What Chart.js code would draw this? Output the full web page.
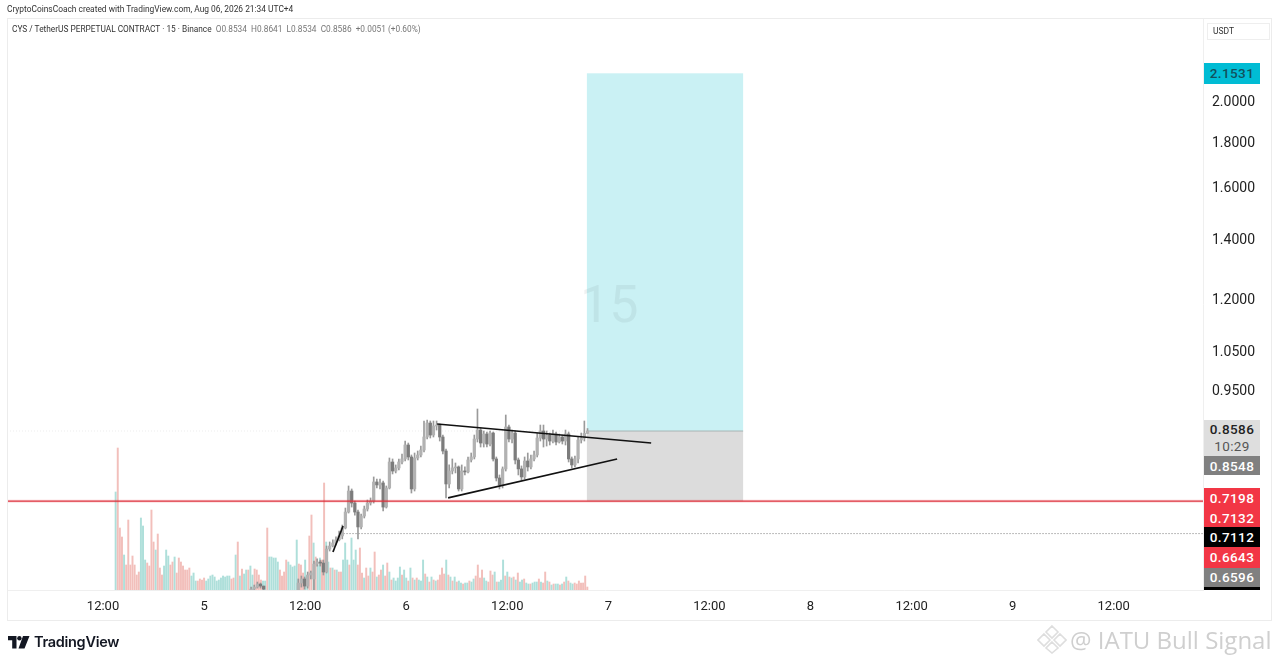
<!DOCTYPE html>
<html>
<head>
<meta charset="utf-8">
<script src="https://cdn.jsdelivr.net/npm/chart.js@4/dist/chart.umd.min.js"></script>
<style>
body { margin: 0; background: #fff; font-family: Roboto, sans-serif; overflow: hidden; }
#wrap { position: relative; width: 1280px; height: 663px; }
canvas { position: absolute; left: 0; top: 0; }
.t { position: absolute; white-space: nowrap; }
.frame { position: absolute; left: 7px; top: 18px; width: 1265px; height: 603px; border: 1px solid #ececec; box-sizing: border-box; }
.tag { position: absolute; left: 1204px; width: 56px; text-align: center; font: 500 13.5px Roboto, sans-serif; letter-spacing: .4px; }
</style>
</head>
<body>
<div id="wrap">
  <canvas id="chart" width="1280" height="663"></canvas>
  <div class="frame"></div>
  <div class="t" style="left:7px;top:4px;font-size:8.4px;color:#333">CryptoCoinsCoach created with TradingView.com, Aug 06, 2026 21:34 UTC+4</div>
  <div class="t" style="left:12px;top:24px;font-size:8.3px;color:#333">CYS / TetherUS PERPETUAL CONTRACT · 15 · Binance <span style="color:#777;margin-left:2px">O0.8534 &nbsp;H0.8641 &nbsp;L0.8534 &nbsp;C0.8586 &nbsp;+0.0051 (+0.60%)</span></div>
  <div class="t" style="left:580px;top:274px;font-size:52px;color:rgba(110,125,125,.11)">15</div>
  <div class="t" style="left:1207px;top:23px;width:63px;height:17px;box-sizing:border-box;border:1px solid #eee;font-size:8.5px;line-height:15px;padding-left:5px;color:#333">USDT</div>

  <div class="tag" style="top:63px;height:21px;line-height:21px;background:#00bcd4;color:#12505c">2.1531</div>
  <div class="tag" style="top:420px;height:36px;background:#dedede;color:#222;line-height:17px;padding-top:1px;box-sizing:border-box">0.8586<br><span style="color:#555;font-weight:400">10:29</span></div>
  <div class="tag" style="top:456px;height:19px;line-height:20px;background:#808080;color:#fff">0.8548</div>
  <div class="tag" style="top:488px;height:39px;line-height:20px;background:#f23645;color:#fff">0.7198<br>0.7132</div>
  <div class="tag" style="top:527px;height:20px;line-height:20px;background:#000;color:#fff">0.7112</div>
  <div class="tag" style="top:547px;height:21px;line-height:21px;background:#f23645;color:#fff">0.6643</div>
  <div class="tag" style="top:568px;height:19px;line-height:19px;background:#808080;color:#fff">0.6596</div>
  <div class="tag" style="top:587px;height:3px;background:#000"></div>

  <svg style="position:absolute;left:8px;top:636px" width="22" height="13" viewBox="0 0 22 13">
    <path d="M0 0H8.5V12.5H4.2V4.2H0Z M15 0H21.5L16.5 12.5H10.5Z" fill="#131722"/>
    <circle cx="11.4" cy="2.2" r="2.2" fill="#131722"/>
  </svg>
  <div class="t" style="left:34px;top:633px;font:600 14.5px Inter, sans-serif;letter-spacing:-.3px;color:#131722">TradingView</div>

  <svg style="position:absolute;left:1037px;top:624px" width="30" height="30" viewBox="0 0 30 30" fill="none" stroke="#dedede" stroke-width="1.6">
    <path d="M15 2L21 8L15 14L9 8Z M7 10L13 16L7 22L1 16Z M23 10L29 16L23 22L17 16Z M15 18L21 24L15 29L9 24Z"/>
  </svg>
  <div class="t" style="left:1070px;top:623px;font:24px 'Open Sans', sans-serif;color:#cfcfcf">@ IATU Bull Signal</div>
</div>

<script>
// all x values are hours since Aug 4 00:00
const xTickHours = [12, 24, 36, 48, 60, 72, 84, 96, 108, 120, 132];
const xTickLabels = ['12:00', '5', '12:00', '6', '12:00', '7', '12:00', '8', '12:00', '9', '12:00'];
const priceTicks = [2.0, 1.8, 1.6, 1.4, 1.2, 1.05, 0.95];

const firstVolumeHour = 13.5;
const volumeStep = 0.25;
const volumes = [
  9.8,14.2,6.2,5.3,3.5,2.5,7.0,2.5,3.4,2.5,1.5,1.8,7.2,6.4,3.0,2.7,2.4,8.0,4.8,4.0,
  5.6,2.2,1.5,2.4,4.0,3.4,2.5,2.8,3.3,1.7,3.2,2.8,2.4,2.0,2.0,2.2,1.4,1.7,0.9,0.9,
  1.1,1.0,1.2,0.9,1.1,1.4,1.5,1.3,0.9,1.0,1.2,1.4,1.3,1.4,1.4,1.1,1.2,3.5,4.8,1.4,2.1,1.6,2.0,
  2.0,2.4,1.5,2.1,2.0,1.5,1.0,0.9,0.9,6.2,3.3,3.3,3.2,3.2,2.8,2.0,1.4,1.8,3.0,2.8,2.5,2.3,2.4,5.0,2.6,2.5,1.7,3.0,1.3,5.4,
  7.5,4.7,3.3,2.5,3.2,3.0,10.7,4.8,2.8,2.2,2.2,2.0,2.0,1.8,1.8,3.0,4.7,3.0,2.5,5.2,3.0,4.0,2.5,4.2,1.7,1.2,2.2,1.4,2.2,1.8,3.8,
  1.3,1.5,2.0,2.5,1.4,2.7,1.8,1.0,1.2,0.9,1.2,2.3,1.5,2.0,1.2,0.9,2.2,1.2,1.0,1.2,1.0,0.9,3.0,1.6,1.3,0.8,1.3,1.0,0.9,1.0,1.5,2.2,1.6,3.0,
  1.5,1.3,0.9,1.3,0.8,0.9,0.7,0.6,0.7,0.7,0.9,0.8,1.1,1.4,2.5,1.2,2.0,1.2,0.9,0.8,1.9,1.5,1.8,0.8,0.8,1.0,3.0,1.4,1.8,1.3,1.2,1.3,1.0,1.7,0.8,1.0,
  1.1,0.7,0.6,0.6,0.7,0.8,0.8,1.1,0.8,0.7,1.8,0.9,0.8,0.5,0.6,0.6,0.6,0.5,0.6,0.8,1.3,0.9,0.7,0.6,0.7,0.6,0.9,0.7,0.7,1.4,0.3
];
// 1 = up (teal), 0 = down (pink)
const volumeUp = [
  1,0,0,0,1,0,0,0,0,0,0,0,1,1,1,0,0,0,0,1,
  0,0,0,1,1,1,0,0,1,0,0,0,0,0,0,0,1,1,1,0,
  0,0,0,1,1,1,1,1,1,1,1,1,1,1,1,0,0,1,0,1,0,1,1,
  0,1,1,0,0,0,0,1,1,0,1,1,1,1,1,0,0,0,0,1,1,1,1,1,0,0,0,1,1,0,
  0,1,0,1,1,0,0,1,1,0,1,0,1,0,0,1,1,1,0,1,1,1,0,0,0,1,0,0,1,0,
  0,1,0,0,1,0,0,1,0,1,1,1,1,0,1,1,0,1,0,1,0,1,1,1,0,1,0,1,0,1,0,0,0,0,
  1,0,1,0,1,0,1,1,0,1,1,0,1,1,0,0,0,0,1,1,0,0,0,1,0,1,1,1,0,1,0,1,0,1,0,1,
  1,0,1,1,0,1,1,1,0,1,0,0,1,0,1,0,1,1,0,1,0,1,0,1,1
];

const firstCandleHour = 29.58;
const candleStep = 0.3733;
const candleOpen = [
  .5691,.5719,.5749,.5794,.5764,
  null,null,null,null,null,null,null,null,null,null,
  .5691,.5809,.5870,.5764,.5930,.5870,.6099,.6131,.6115,.5976,.6340,.6389,.6439,.6490,.6557,.6693,.6972,.7359,.7135,.6972,
  .6710,.6900,.7026,.7135,.7172,.7532,.7475,.7513,.7062,.7417,.7929,.7747,.7809,.7929,.7991,.8283,.8032,.7398,.8011,.8073,
  .8177,.8455,.8764,.8498,.8697,.8719,.8455,.8156,.7494,.7747,.7809,.7829,.7398,.7747,.7729,.7970,.8032,.8411,.8608,.8325,
  .8520,.8304,.8542,.7991,.7610,.7475,.7789,.8675,.8411,.8542,.7970,.7789,.7630,.7949,.7829,.7991,.8073,.8433,.8586,.8411,
  .8498,.8368,.8520,.8347,.8455,.8368,.8520,.7991,.7869,.7991,.8390,.8433,.8534
];
const candleClose = [
  .5719,.5749,.5794,.5764,.5719,
  null,null,null,null,null,null,null,null,null,null,
  .5809,.5870,.5764,.5930,.5961,.6099,.6131,.6115,.5976,.6340,.6389,.6439,.6490,.6557,.6693,.6972,.7359,.7135,.6972,.6710,
  .6900,.7026,.7135,.7172,.7532,.7475,.7513,.7062,.7417,.7929,.7747,.7809,.7929,.7991,.8283,.8032,.7398,.8011,.8073,.8177,
  .8455,.8764,.8498,.8697,.8719,.8455,.8156,.7494,.7747,.7809,.7829,.7398,.7747,.7729,.7970,.8032,.8411,.8608,.8325,.8520,
  .8304,.8542,.7991,.7610,.7475,.7789,.8675,.8411,.8542,.7970,.7789,.7630,.7949,.7829,.7991,.8073,.8433,.8586,.8411,.8498,
  .8368,.8520,.8347,.8455,.8368,.8520,.7991,.7869,.7991,.8390,.8433,.8534,.8586
];
const candleHigh = [
  .5749,.5779,.5824,.5809,.5764,
  null,null,null,null,null,null,null,null,null,null,
  .5870,.5915,.5900,.5976,.5991,.6147,.6180,.6163,.6163,.6389,.6456,.6490,.6540,.6640,.6743,.7044,.7455,.7398,.7172,.7008,
  .6936,.7080,.7191,.7229,.7630,.7590,.7590,.7551,.7455,.8011,.7991,.7869,.7991,.8094,.8368,.8325,.8073,.8114,.8156,.8261,
  .8810,.8833,.8810,.8810,.8810,.8742,.8498,.8198,.7869,.7991,.7909,.7849,.7869,.7829,.8032,.8114,.8498,.9086,.8652,.8586,
  .8564,.8586,.8564,.8032,.7669,.7829,.8947,.8719,.8608,.8586,.8011,.7849,.8032,.8114,.8073,.8156,.8542,.8719,.8719,.8586,
  .8542,.8608,.8564,.8520,.8498,.8608,.8564,.8032,.8052,.8455,.8542,.8810,.8641
];
const candleLow = [
  .5691,.5704,.5734,.5734,.5691,
  null,null,null,null,null,null,null,null,null,null,
  .5691,.5749,.5719,.5734,.5870,.5704,.6068,.6068,.5930,.5961,.6307,.6373,.6406,.6472,.6507,.6676,.6954,.7062,.6918,.6507,
  .6676,.6866,.6990,.7098,.7135,.7417,.7398,.6990,.7044,.7398,.7689,.7709,.7769,.7889,.7949,.7970,.7321,.7359,.7970,.8032,
  .8135,.8411,.8433,.8455,.8608,.8368,.8094,.7229,.7417,.7689,.7709,.7359,.7359,.7669,.7709,.7929,.7991,.8347,.8240,.8240,
  .8240,.8261,.7949,.7551,.7398,.7417,.7747,.8347,.8325,.7889,.7669,.7571,.7590,.7747,.7789,.7949,.8032,.8368,.8240,.8261,
  .8283,.8325,.8283,.8325,.8304,.8283,.7929,.7809,.7829,.7909,.8325,.8368,.8534
];

// position tool and drawn levels
const targetPrice = 2.1531;
const entryPrice = 0.8586;
const stopPrice = 0.7170;
const boxStartHour = 69.45;
const boxEndHour = 88.0;
const dottedPrice = 0.6596;
const upperTrend = [{ x: 51.67, y: 0.8742 }, { x: 77.08, y: 0.8325 }];
const lowerTrend = [{ x: 52.97, y: 0.7229 }, { x: 73.04, y: 0.7991 }];
const shortTrend = [{ x: 39.3, y: 0.6291 }, { x: 40.5, y: 0.6726 }];

const xMin = 0.6;
const xMax = 142.6;

function candleHour(i) { return firstCandleHour + i * candleStep; }

const volumeData = volumes.map((v, i) => ({ x: firstVolumeHour + i * volumeStep, y: v }));
const wickData = [];
const bodyData = [];
const bodyColors = [];
candleClose.forEach((c, i) => {
  if (c === null) return;
  wickData.push({ x: candleHour(i), y: [candleLow[i], candleHigh[i]] });
  bodyData.push({ x: candleHour(i), y: [candleOpen[i], c] });
  bodyColors.push(c >= candleOpen[i] ? '#b2b2b2' : '#7c7c7c');
});

const positionBoxes = {
  id: 'positionBoxes',
  beforeDatasetsDraw(chart) {
    const x = chart.scales.x, y = chart.scales.y, g = chart.ctx;
    const left = x.getPixelForValue(boxStartHour);
    const right = x.getPixelForValue(boxEndHour);
    const top = y.getPixelForValue(targetPrice);
    const mid = y.getPixelForValue(entryPrice);
    const bottom = y.getPixelForValue(stopPrice);
    g.save();
    g.fillStyle = '#caf1f4';
    g.fillRect(left, top, right - left, mid - top);
    g.fillStyle = '#dcdcdc';
    g.fillRect(left, mid, right - left, bottom - mid);
    g.strokeStyle = '#a9b4b4';
    g.beginPath();
    g.moveTo(left, mid);
    g.lineTo(right, mid);
    g.stroke();
    g.restore();
  }
};

function lineSet(data, color, width, order, dash) {
  return {
    type: 'line', data, borderColor: color, borderWidth: width, pointRadius: 0,
    borderDash: dash || [], order, yAxisID: 'y', tension: 0
  };
}

new Chart(document.getElementById('chart'), {
  type: 'bar',
  data: {
    datasets: [
      { data: volumeData, yAxisID: 'vol', order: 6, grouped: false, barThickness: 1.3,
        backgroundColor: volumes.map((v, i) => volumeUp[i] ? '#aedfda' : '#f2bfbb') },
      { data: wickData, yAxisID: 'y', order: 4, grouped: false, barThickness: 1, backgroundColor: '#9a9a9a' },
      { data: bodyData, yAxisID: 'y', order: 3, grouped: false, barThickness: 2.6, minBarLength: 1, backgroundColor: bodyColors },
      lineSet([{ x: xMin, y: entryPrice }, { x: boxStartHour, y: entryPrice }], '#ededed', 1, 7, [1, 2]),
      lineSet([{ x: 40.2, y: dottedPrice }, { x: xMax, y: dottedPrice }], '#777', 1, 5, [1, 2]),
      lineSet([{ x: xMin, y: stopPrice }, { x: xMax, y: stopPrice }], 'rgba(242,54,69,.12)', 3.5, 2),
      lineSet([{ x: xMin, y: stopPrice }, { x: xMax, y: stopPrice }], '#dc2f3a', 1.3, 1),
      lineSet(upperTrend, '#111', 1.7, 1),
      lineSet(lowerTrend, '#111', 1.7, 1),
      lineSet(shortTrend, '#111', 1.7, 1)
    ]
  },
  options: {
    responsive: false,
    animation: false,
    layout: { padding: { left: 7, top: 18, right: 0, bottom: 0 } },
    plugins: { legend: { display: false }, tooltip: { enabled: false } },
    scales: {
      x: {
        type: 'linear', min: xMin, max: xMax, offset: false, bounds: 'data',
        grid: { display: false }, border: { color: '#efefef' },
        afterBuildTicks(s) { s.ticks = xTickHours.map(v => ({ value: v })); },
        afterFit(s) { s.height = 73; },
        ticks: {
          autoSkip: false, maxRotation: 0, padding: 1, color: '#222',
          font: { family: 'Roboto', size: 13 },
          callback: v => xTickLabels[xTickHours.indexOf(v)]
        }
      },
      y: {
        type: 'logarithmic', position: 'right', min: 0.5706, max: 2.482, bounds: 'data',
        grid: { display: false }, border: { color: '#efefef' },
        afterBuildTicks(s) { s.ticks = priceTicks.map(v => ({ value: v })); },
        afterFit(s) { s.width = 77; },
        ticks: {
          autoSkip: false, padding: 1, color: '#222',
          font: { family: 'Roboto', size: 14 },
          callback: v => v.toFixed(4)
        }
      },
      vol: { type: 'linear', display: false, min: 0, max: 57.2, bounds: 'data' }
    }
  },
  plugins: [positionBoxes]
});
</script>
</body>
</html>
